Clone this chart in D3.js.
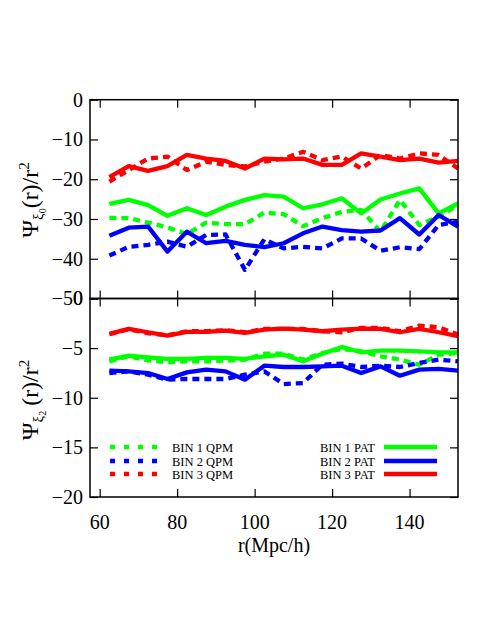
<!DOCTYPE html>
<html>
<head>
<meta charset="utf-8">
<script src="https://cdn.jsdelivr.net/npm/d3@7"></script>
<style>
  body { margin: 0; background: #fff; }
  svg text { font-family: "Liberation Serif", "DejaVu Serif", serif !important; fill: #000; }
</style>
</head>
<body>
<div id="chart"></div>
<script>
// separation r in Mpc/h
var rVals = [62.5, 67.5, 72.5, 77.5, 82.5, 87.5, 92.5, 97.5, 102.5, 107.5,
             112.5, 117.5, 122.5, 127.5, 132.5, 137.5, 142.5, 147.5, 152.5];

// top panel: monopole
var mono_pat1 = [-26.2, -25.2, -26.5, -29.2, -27.3, -29.0, -26.9, -25.2, -24.0, -24.4,
                 -27.3, -26.3, -24.8, -28.6, -25.1, -23.6, -22.3, -28.6, -26.1];
var mono_qpm1 = [-29.7, -29.8, -30.9, -32.1, -33.8, -30.9, -31.3, -31.3, -28.4, -28.8,
                 -31.8, -29.8, -28.2, -27.7, -33.2, -25.2, -31.5, -29.4, -26.6];
var mono_pat2 = [-34.2, -32.2, -31.9, -38.2, -33.2, -36.1, -35.5, -36.5, -37.1, -36.1,
                 -33.6, -31.9, -32.8, -33.2, -32.9, -29.8, -33.9, -29.0, -31.9];
var mono_qpm2 = [-39.2, -37.0, -36.5, -35.7, -37.0, -34.0, -33.9, -42.8, -35.1, -37.4,
                 -37.0, -37.4, -34.9, -34.9, -38.0, -37.1, -37.6, -31.5, -30.7];
var mono_pat3 = [-19.5, -16.7, -17.9, -16.7, -13.9, -14.8, -15.4, -17.3, -14.8, -15.0,
                 -14.8, -16.4, -16.4, -13.5, -14.3, -15.2, -14.8, -15.8, -15.4];
var mono_qpm3 = [-20.6, -17.7, -14.8, -14.3, -17.7, -15.6, -16.4, -16.8, -15.6, -14.8,
                 -13.1, -15.2, -14.3, -17.3, -13.9, -14.8, -13.5, -13.9, -17.3];

// bottom panel: quadrupole
var quad_pat1 = [-6.16, -5.76, -5.93, -6.09, -6.09, -5.99, -5.99, -6.09, -5.82, -5.66,
                 -6.33, -5.56, -4.88, -5.42, -5.25, -5.25, -5.32, -5.42, -5.42];
var quad_qpm1 = [-6.33, -5.82, -6.23, -6.43, -6.33, -6.33, -6.26, -6.16, -5.56, -5.56,
                 -6.16, -5.49, -5.08, -5.32, -5.82, -6.16, -6.67, -5.66, -5.49];
var quad_pat2 = [-7.27, -7.34, -7.51, -8.11, -7.44, -7.17, -7.34, -8.18, -6.77, -6.90,
                 -6.90, -6.84, -6.77, -7.51, -6.84, -7.78, -7.17, -7.10, -7.27];
var quad_qpm2 = [-7.51, -7.34, -7.68, -8.18, -8.11, -8.11, -8.11, -7.68, -7.34, -8.62,
                 -8.52, -6.67, -6.57, -6.90, -6.77, -6.90, -6.50, -6.16, -6.33];
var quad_pat3 = [-3.57, -3.06, -3.40, -3.74, -3.37, -3.37, -3.23, -3.47, -3.13, -3.03,
                 -3.13, -3.30, -3.13, -3.03, -3.06, -3.40, -3.06, -3.40, -3.80];
var quad_qpm3 = [-3.60, -3.10, -3.50, -3.70, -3.30, -3.30, -3.20, -3.40, -3.06, -3.06,
                 -3.06, -3.30, -3.40, -2.96, -2.96, -3.30, -2.73, -2.90, -3.64];

var xTicks = [60, 80, 100, 120, 140];
var topTicks = [0, -10, -20, -30, -40, -50];
var botTicks = [0, -5, -10, -15, -20];
var legendLeft = ["BIN 1 QPM", "BIN 2 QPM", "BIN 3 QPM"];
var legendRight = ["BIN 1 PAT", "BIN 2 PAT", "BIN 3 PAT"];
var colors = ["#00ff00", "#0000ff", "#ff0000"];

var W = 485, H = 627;
var left = 90, right = 458, top0 = 99.7, mid = 298.5, bottom = 497;

var svg = d3.select("#chart").append("svg")
  .attr("width", W).attr("height", H)
  .attr("font-family", "Liberation Serif");
svg.append("rect").attr("width", W).attr("height", H).attr("fill", "#fff");

var x = d3.scaleLinear().domain([57.5, 152.5]).range([left, right]);
var yTop = d3.scaleLinear().domain([-50, 0]).range([mid, top0]);
var yBot = d3.scaleLinear().domain([-20, 0]).range([bottom, mid]);

function drawPanel(y, ticks, minorStep, rightMinor, series) {
  var lo = y.domain()[0], hi = y.domain()[1];
  var minor = d3.range(lo, hi + 0.001, minorStep);
  var xMinor = d3.range(60, 152.5, 5);
  var y0 = y.range()[0], y1 = y.range()[1];

  // lines
  var line = d3.line().x(function(d) { return x(d.r); }).y(function(d) { return y(d.v); });
  series.forEach(function(s) {
    var pts = rVals.map(function(r, i) { return {r: r, v: s.values[i]}; });
    svg.append("path")
      .datum(pts)
      .attr("d", line)
      .attr("fill", "none")
      .attr("stroke", s.color)
      .attr("stroke-width", 4.3)
      .attr("stroke-linejoin", "round")
      .attr("stroke-dasharray", s.dashed ? "7,5" : null);
  });

  // left axis
  var gl = svg.append("g").attr("transform", "translate(" + left + ",0)");
  gl.call(d3.axisLeft(y).tickValues(minor).tickSize(-4).tickFormat(""));
  gl.call(d3.axisLeft(y).tickValues(ticks).tickSize(-8).tickPadding(7).tickFormat(d3.format("d")));
  gl.selectAll(".domain").remove();
  gl.attr("font-family", "Liberation Serif").attr("font-size", 20);

  // right axis
  var gr = svg.append("g").attr("transform", "translate(" + right + ",0)");
  if (rightMinor) gr.call(d3.axisRight(y).tickValues(minor).tickSize(-4).tickFormat(""));
  gr.call(d3.axisRight(y).tickValues(ticks).tickSize(-8).tickFormat(""));
  gr.selectAll(".domain").remove();

  // bottom and top x ticks (inward)
  var gb = svg.append("g").attr("transform", "translate(0," + y0 + ")");
  gb.call(d3.axisBottom(x).tickValues(xMinor).tickSize(-4).tickFormat(""));
  gb.call(d3.axisBottom(x).tickValues(xTicks).tickSize(-8).tickFormat(""));
  gb.selectAll(".domain").remove();
  var gt = svg.append("g").attr("transform", "translate(0," + y1 + ")");
  gt.call(d3.axisTop(x).tickValues(xMinor).tickSize(-4).tickFormat(""));
  gt.call(d3.axisTop(x).tickValues(xTicks).tickSize(-8).tickFormat(""));
  gt.selectAll(".domain").remove();

  svg.selectAll(".tick line").attr("stroke", "#000").attr("stroke-width", 1.2);

  svg.append("rect")
    .attr("x", left).attr("y", y1)
    .attr("width", right - left).attr("height", y0 - y1)
    .attr("fill", "none").attr("stroke", "#000").attr("stroke-width", 1.5);
}

drawPanel(yTop, topTicks, 1, false, [
  {values: mono_qpm1, color: colors[0], dashed: true},
  {values: mono_qpm2, color: colors[1], dashed: true},
  {values: mono_qpm3, color: colors[2], dashed: true},
  {values: mono_pat1, color: colors[0], dashed: false},
  {values: mono_pat2, color: colors[1], dashed: false},
  {values: mono_pat3, color: colors[2], dashed: false}
]);

drawPanel(yBot, botTicks, 1, true, [
  {values: quad_qpm1, color: colors[0], dashed: true},
  {values: quad_qpm2, color: colors[1], dashed: true},
  {values: quad_qpm3, color: colors[2], dashed: true},
  {values: quad_pat1, color: colors[0], dashed: false},
  {values: quad_pat2, color: colors[1], dashed: false},
  {values: quad_pat3, color: colors[2], dashed: false}
]);

// x tick labels
svg.append("g").selectAll("text")
  .data(xTicks).join("text")
  .attr("x", function(d) { return x(d); })
  .attr("y", 529)
  .attr("text-anchor", "middle")
  .attr("font-size", 20)
  .text(function(d) { return d; });

svg.append("text")
  .attr("x", x(105)).attr("y", 552)
  .attr("text-anchor", "middle")
  .attr("font-size", 20)
  .text("r(Mpc/h)");

// y axis titles
function yTitle(cy, sub, gap) {
  var t = svg.append("text")
    .attr("transform", "translate(38," + cy + ") rotate(-90)")
    .attr("text-anchor", "middle")
    .attr("font-size", 24);
  t.append("tspan").text("Ψ");
  t.append("tspan").attr("font-size", 15).attr("dy", 5).text("ξ");
  t.append("tspan").attr("font-size", 10).attr("dy", 3).text(sub);
  t.append("tspan").attr("dy", -8).attr("dx", gap).text("(r)/r");
  t.append("tspan").attr("font-size", 15).attr("dy", -9).text("2");
}
yTitle(200, "0", 0);
yTitle(400, "2", 5);

// legend
var rows = [447, 461, 474];
var lg = svg.append("g");
rows.forEach(function(ry, i) {
  lg.append("line")
    .attr("x1", 110).attr("x2", 159).attr("y1", ry).attr("y2", ry)
    .attr("stroke", colors[i]).attr("stroke-width", 4.3)
    .attr("stroke-dasharray", "5,9");
  lg.append("text")
    .attr("x", 172).attr("y", ry + 4.5)
    .attr("font-size", 12.5)
    .text(legendLeft[i]);
  lg.append("text")
    .attr("x", 375).attr("y", ry + 4.5)
    .attr("text-anchor", "end")
    .attr("font-size", 12.5)
    .text(legendRight[i]);
  lg.append("line")
    .attr("x1", 384).attr("x2", 437).attr("y1", ry).attr("y2", ry)
    .attr("stroke", colors[i]).attr("stroke-width", 4.3);
});
</script>
</body>
</html>
